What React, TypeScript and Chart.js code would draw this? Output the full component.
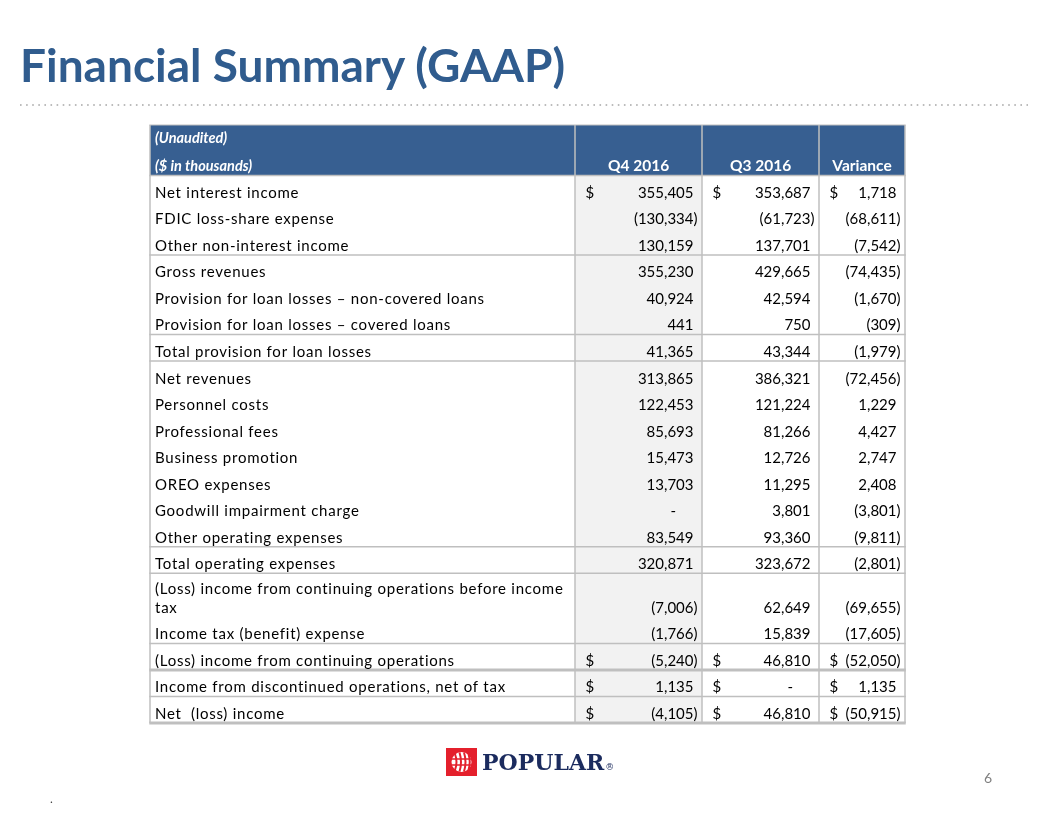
import React, { useEffect, useRef } from "react";
import { Chart, registerables } from "chart.js";

Chart.register(...registerables);

// ---------------- DATA ----------------
const headerNotes = ["(Unaudited)", "($ in thousands)"];
const columnHeaders = ["Q4 2016", "Q3 2016", "Variance"];

const rowLabels: (string | string[])[] = [
  "Net interest income",
  "FDIC loss-share expense",
  "Other non-interest income",
  "Gross revenues",
  "Provision for loan losses – non-covered loans",
  "Provision for loan losses – covered loans",
  "Total provision for loan losses",
  "Net revenues",
  "Personnel costs",
  "Professional fees",
  "Business promotion",
  "OREO expenses",
  "Goodwill impairment charge",
  "Other operating expenses",
  "Total operating expenses",
  ["(Loss) income from continuing operations before income", "tax"],
  "Income tax (benefit) expense",
  "(Loss) income from continuing operations",
  "Income from discontinued operations, net of tax",
  "Net  (loss) income",
];

const q4_2016 = [
  355405, -130334, 130159, 355230, 40924, 441, 41365, 313865, 122453, 85693,
  15473, 13703, 0, 83549, 320871, -7006, -1766, -5240, 1135, -4105,
];
const q3_2016 = [
  353687, -61723, 137701, 429665, 42594, 750, 43344, 386321, 121224, 81266,
  12726, 11295, 3801, 93360, 323672, 62649, 15839, 46810, 0, 46810,
];
const variance = [
  1718, -68611, -7542, -74435, -1670, -309, -1979, -72456, 1229, 4427,
  2747, 2408, -3801, -9811, -2801, -69655, -17605, -52050, 1135, -50915,
];

// rows that carry a "$" sign
const dollarRows = [0, 17, 18, 19];
// rows followed by a rule; some of them a heavy (double) rule
const ruleAfterRows = [2, 5, 6, 13, 14, 16, 17, 18, 19];
const heavyRuleAfterRows = [17, 19];

// ---------------- LAYOUT / STYLE ----------------
const HEADER_UNITS = 1.9;
const rowUnits = rowLabels.map((l) => (Array.isArray(l) ? 1.65 : 1));
const rowTop: number[] = [];
let accUnits = HEADER_UNITS;
rowUnits.forEach((u) => {
  rowTop.push(accUnits);
  accUnits += u;
});
const TOTAL_UNITS = accUnits;
const COL_EDGES = [0, 425, 552, 669, 755];

const FONT_FAMILY = "Lato, 'Open Sans', sans-serif";
const HEADER_BLUE = "#375F91";
const RULE = "#BFBFBF";

function fmt(v: number): string {
  if (v === 0) return "-";
  const s = Math.abs(v).toLocaleString("en-US");
  return v < 0 ? `(${s})` : s;
}

const columns = [q4_2016, q3_2016, variance];

const tablePlugin = {
  id: "tableDraw",
  beforeDraw(chart: any) {
    const { ctx } = chart;
    const xs = chart.scales.x;
    const ys = chart.scales.y;
    const X = (v: number) => xs.getPixelForValue(v);
    const Y = (v: number) => ys.getPixelForValue(v);
    ctx.save();
    ctx.fillStyle = "#ffffff";
    ctx.fillRect(0, 0, chart.width, chart.height);

    // shaded Q4 column
    ctx.fillStyle = "#F2F2F2";
    ctx.fillRect(
      X(COL_EDGES[1]),
      Y(HEADER_UNITS),
      X(COL_EDGES[2]) - X(COL_EDGES[1]),
      Y(TOTAL_UNITS) - Y(HEADER_UNITS)
    );

    // header band
    ctx.fillStyle = HEADER_BLUE;
    ctx.fillRect(X(0), Y(0), X(COL_EDGES[4]) - X(0), Y(HEADER_UNITS) - Y(0));

    // vertical rules
    ctx.strokeStyle = RULE;
    ctx.lineWidth = 1.5;
    COL_EDGES.forEach((e) => {
      ctx.beginPath();
      ctx.moveTo(X(e), Y(0));
      ctx.lineTo(X(e), Y(TOTAL_UNITS));
      ctx.stroke();
    });

    // horizontal rules
    const hRule = (u: number, w: number) => {
      ctx.lineWidth = w;
      ctx.beginPath();
      ctx.moveTo(X(0) - 0.75, Y(u));
      ctx.lineTo(X(COL_EDGES[4]) + 0.75, Y(u));
      ctx.stroke();
    };
    hRule(0, 1.2);
    hRule(HEADER_UNITS, 1.5);
    ruleAfterRows.forEach((r) => {
      const u = rowTop[r] + rowUnits[r];
      hRule(u, heavyRuleAfterRows.includes(r) ? 3 : 1.5);
    });
    ctx.restore();
  },
  afterDatasetsDraw(chart: any) {
    const { ctx } = chart;
    const xs = chart.scales.x;
    const ys = chart.scales.y;
    const X = (v: number) => xs.getPixelForValue(v);
    const Y = (v: number) => ys.getPixelForValue(v);
    ctx.save();

    // header texts
    ctx.fillStyle = "#ffffff";
    ctx.font = `italic bold 14.5px ${FONT_FAMILY}`;
    ctx.textAlign = "left";
    ctx.textBaseline = "alphabetic";
    ctx.fillText(headerNotes[0], X(0) + 5, Y(0) + 18);
    ctx.fillText(headerNotes[1], X(0) + 5, Y(HEADER_UNITS) - 4);
    ctx.font = `bold 15.5px ${FONT_FAMILY}`;
    ctx.textAlign = "center";
    columnHeaders.forEach((h, c) => {
      ctx.fillText(h, (X(COL_EDGES[c + 1]) + X(COL_EDGES[c + 2])) / 2, Y(HEADER_UNITS) - 4);
    });

    // row labels
    ctx.fillStyle = "#000000";
    ctx.font = `15px ${FONT_FAMILY}`;
    ctx.textAlign = "left";
    (ctx as any).letterSpacing = "0.75px";
    rowLabels.forEach((lab, i) => {
      const base = Y(rowTop[i] + rowUnits[i]) - 4;
      const lines = Array.isArray(lab) ? lab : [lab];
      lines.forEach((ln, k) => {
        ctx.fillText(ln, X(0) + 5, base - (lines.length - 1 - k) * 19);
      });
    });
    (ctx as any).letterSpacing = "0px";

    // numbers, positioned through the dataset elements
    ctx.font = `15px ${FONT_FAMILY}`;
    const parenW = ctx.measureText(")").width;
    const digitW = ctx.measureText("0").width;
    chart.data.datasets.forEach((ds: any, c: number) => {
      const meta = chart.getDatasetMeta(c);
      const colLeft = X(COL_EDGES[c + 1]);
      const colRight = X(COL_EDGES[c + 2]);
      meta.data.forEach((el: any, i: number) => {
        const v = ds.values[i];
        const base = el.y - 4;
        const edge = colRight - 4.5;
        ctx.textAlign = "right";
        if (v === 0) {
          ctx.fillText("-", edge - parenW - 2 * digitW, base);
        } else if (v < 0) {
          ctx.fillText(fmt(v), edge, base);
        } else {
          ctx.fillText(fmt(v), edge - parenW, base);
        }
        if (dollarRows.includes(i)) {
          ctx.textAlign = "left";
          ctx.fillText("$", colLeft + 10.5, base);
        }
      });
    });
    ctx.restore();
  },
};

function TableChart() {
  const ref = useRef<HTMLCanvasElement | null>(null);
  useEffect(() => {
    if (!ref.current) return;
    const datasets = columns.map((vals, c) => ({
      label: columnHeaders[c],
      values: vals,
      data: vals.map((_, i) => ({
        x: (COL_EDGES[c + 1] + COL_EDGES[c + 2]) / 2,
        y: rowTop[i] + rowUnits[i],
      })),
      pointRadius: 0,
      showLine: false,
    }));
    const chart = new Chart(ref.current, {
      type: "scatter",
      data: { datasets: datasets as any },
      options: {
        animation: false,
        responsive: false,
        devicePixelRatio: 1,
        events: [],
        layout: { padding: { left: 150, right: 151, top: 125, bottom: 93 } },
        plugins: { legend: { display: false }, tooltip: { enabled: false } },
        scales: {
          x: { type: "linear", min: 0, max: COL_EDGES[4], display: false },
          y: { type: "linear", min: 0, max: TOTAL_UNITS, reverse: true, display: false },
        },
      },
      plugins: [tablePlugin as any],
    });
    return () => chart.destroy();
  }, []);
  return (
    <canvas
      ref={ref}
      width={1056}
      height={816}
      style={{ position: "absolute", left: 0, top: 0, width: 1056, height: 816, display: "block" }}
    />
  );
}

export default function App() {
  return (
    <div
      style={{
        position: "absolute",
        left: 0,
        top: 0,
        width: 1056,
        height: 816,
        overflow: "hidden",
        background: "#fff",
        fontFamily: FONT_FAMILY,
      }}
    >
      <TableChart />
      <div
        style={{
          position: "absolute",
          left: 20,
          top: 42,
          fontFamily: FONT_FAMILY,
          fontWeight: 700,
          fontSize: 46,
          lineHeight: "46px",
          color: "#305C8E",
          whiteSpace: "nowrap",
        }}
      >
        Financial Summary (GAAP)
      </div>
      <svg
        width={1030}
        height={6}
        style={{ position: "absolute", left: 18, top: 102 }}
      >
        <line
          x1={2}
          y1={3}
          x2={1010}
          y2={3}
          stroke="#A6A6A6"
          strokeWidth={1.6}
          strokeDasharray="1.6 4.5"
        />
      </svg>
      <svg width={31} height={28} style={{ position: "absolute", left: 446, top: 748 }}>
        <rect x={0} y={0} width={31} height={28} fill="#E4202C" />
        <circle cx={15.5} cy={14} r={10} fill="#ffffff" />
        <path d="M9 6 Q12 14 9 22" stroke="#E4202C" strokeWidth={2} fill="none" />
        <path d="M13.5 4.5 Q16.5 14 13.5 23.5" stroke="#E4202C" strokeWidth={2} fill="none" />
        <path d="M18 4.5 Q21 14 18 23.5" stroke="#E4202C" strokeWidth={2} fill="none" />
        <path d="M22.5 6 Q25 14 22.5 22" stroke="#E4202C" strokeWidth={2} fill="none" />
        <path d="M6 11 L25 11 M6 17 L25 17" stroke="#E4202C" strokeWidth={1.4} />
      </svg>
      <div
        style={{
          position: "absolute",
          left: 482,
          top: 751,
          fontFamily: "'DejaVu Serif', serif",
          fontWeight: 700,
          fontSize: 22,
          lineHeight: "22px",
          color: "#1B2B5E",
          whiteSpace: "nowrap",
        }}
      >
        POPULAR
        <span style={{ fontSize: 9, fontWeight: 400, marginLeft: 1 }}>®</span>
      </div>
      <div
        style={{
          position: "absolute",
          left: 984,
          top: 770,
          fontSize: 14,
          lineHeight: "16px",
          color: "#808080",
          fontFamily: FONT_FAMILY,
        }}
      >
        6
      </div>
      <div
        style={{
          position: "absolute",
          left: 50,
          top: 792,
          fontSize: 12,
          lineHeight: "14px",
          color: "#404040",
        }}
      >
        .
      </div>
    </div>
  );
}
